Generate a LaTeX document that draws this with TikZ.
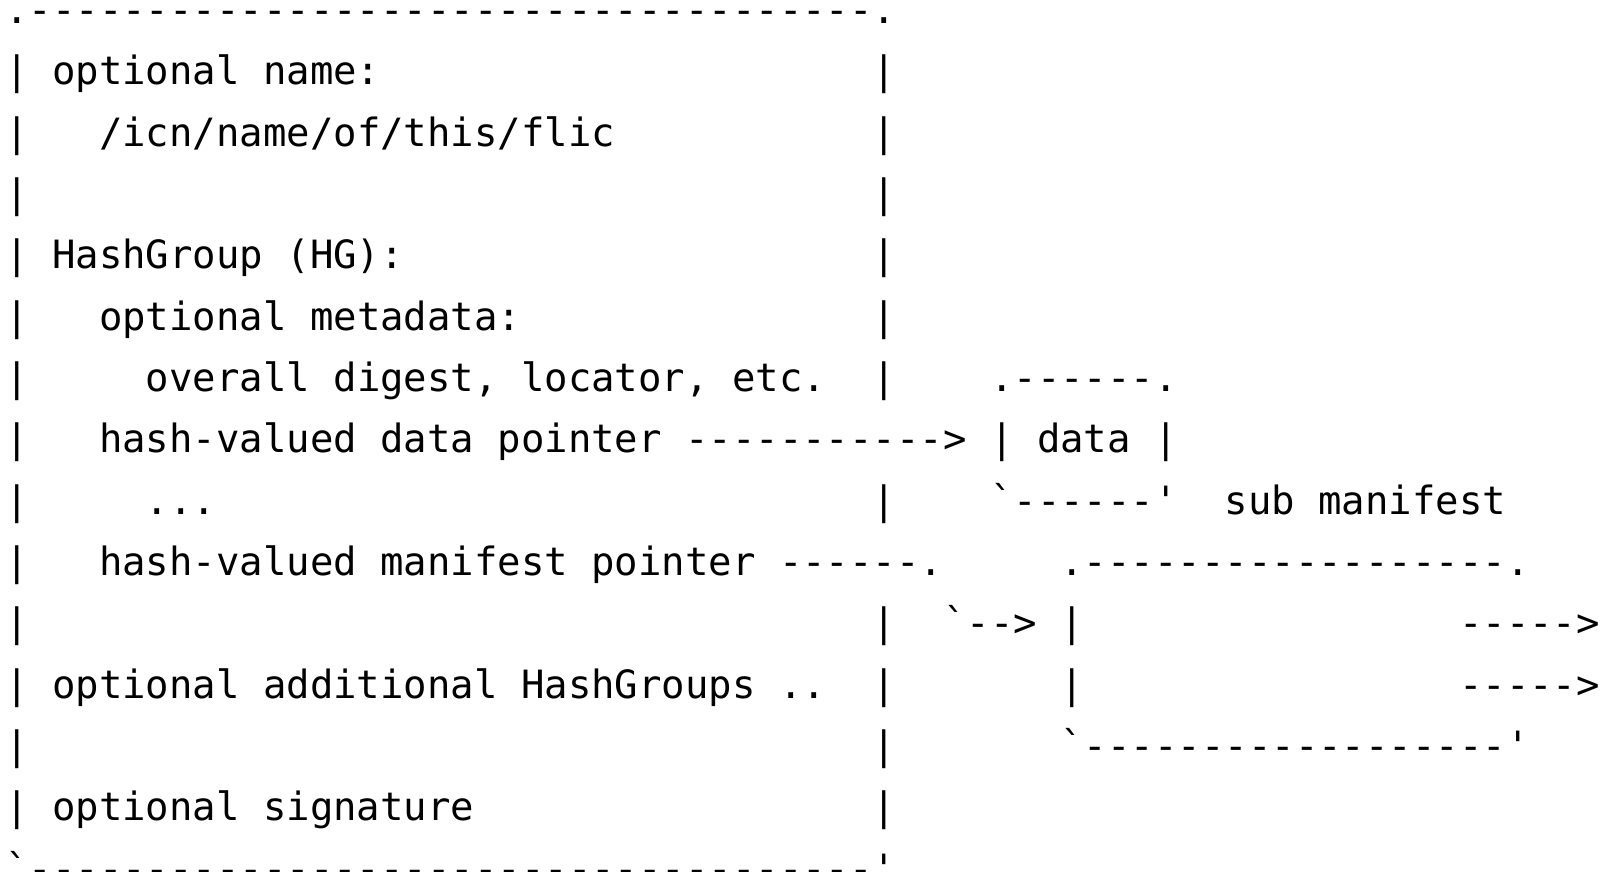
\documentclass[tikz,border=0pt]{standalone}
\usepackage{fontspec}
\setmonofont{DejaVu Sans Mono}
\tikzset{
  asc/.style={anchor=base west, inner sep=0pt, outer sep=0pt,
    font=\ttfamily\fontsize{38.95}{61.33}\selectfont, text=black}
}
% column c, row r  ->  left edge of character cell, baseline
\newcommand\asciiseg[4]{\node[asc] (#1) at ({5.28+23.45*#2}, {-(23.4+61.33*#3)}) {#4};}
\newcommand\sixdash{------}
\begin{document}
\begin{tikzpicture}[x=1pt,y=1pt]
\useasboundingbox[fill=white] (0,0) rectangle (1608,-871);
% row 0
\asciiseg{topedge}{0}{0}{.\sixdash\sixdash\sixdash\sixdash\sixdash\sixdash.}
% row 1
\asciiseg{nameL}{0}{1}{| optional name:}
\asciiseg{nameR}{37}{1}{|}
% row 2
\asciiseg{icnL}{0}{2}{|}
\asciiseg{icn}{4}{2}{/icn/name/of/this/flic}
\asciiseg{icnR}{37}{2}{|}
% row 3
\asciiseg{blankaL}{0}{3}{|}
\asciiseg{blankaR}{37}{3}{|}
% row 4
\asciiseg{hgL}{0}{4}{| HashGroup (HG):}
\asciiseg{hgR}{37}{4}{|}
% row 5
\asciiseg{metaL}{0}{5}{|}
\asciiseg{meta}{4}{5}{optional metadata:}
\asciiseg{metaR}{37}{5}{|}
% row 6
\asciiseg{digL}{0}{6}{|}
\asciiseg{dig}{6}{6}{overall digest, locator, etc.}
\asciiseg{digR}{37}{6}{|}
\asciiseg{datatop}{42}{6}{.------.}
% row 7
\asciiseg{dpL}{0}{7}{|}
\asciiseg{dp}{4}{7}{hash-valued data pointer ----------->}
\asciiseg{data}{42}{7}{| data |}
% row 8
\asciiseg{dotsL}{0}{8}{|}
\asciiseg{dots}{6}{8}{...}
\asciiseg{dotsR}{37}{8}{|}
\asciiseg{databot}{42}{8}{`------'}
\asciiseg{sublabel}{52}{8}{sub manifest}
% row 9
\asciiseg{mpL}{0}{9}{|}
\asciiseg{mp}{4}{9}{hash-valued manifest pointer ------.}
\asciiseg{subtop}{45}{9}{.------------------.}
% row 10
\asciiseg{rtenL}{0}{10}{|}
\asciiseg{rtenR}{37}{10}{|}
\asciiseg{bend}{40}{10}{`-->}
\asciiseg{subLa}{45}{10}{|}
\asciiseg{outa}{62}{10}{----->}
% row 11
\asciiseg{addL}{0}{11}{| optional additional HashGroups ..}
\asciiseg{addR}{37}{11}{|}
\asciiseg{subLb}{45}{11}{|}
\asciiseg{outb}{62}{11}{----->}
% row 12
\asciiseg{blankbL}{0}{12}{|}
\asciiseg{blankbR}{37}{12}{|}
\asciiseg{subbot}{45}{12}{`------------------'}
% row 13
\asciiseg{sigL}{0}{13}{| optional signature}
\asciiseg{sigR}{37}{13}{|}
% row 14
\asciiseg{botedge}{0}{14}{`\sixdash\sixdash\sixdash\sixdash\sixdash\sixdash'}
\end{tikzpicture}
\end{document}
